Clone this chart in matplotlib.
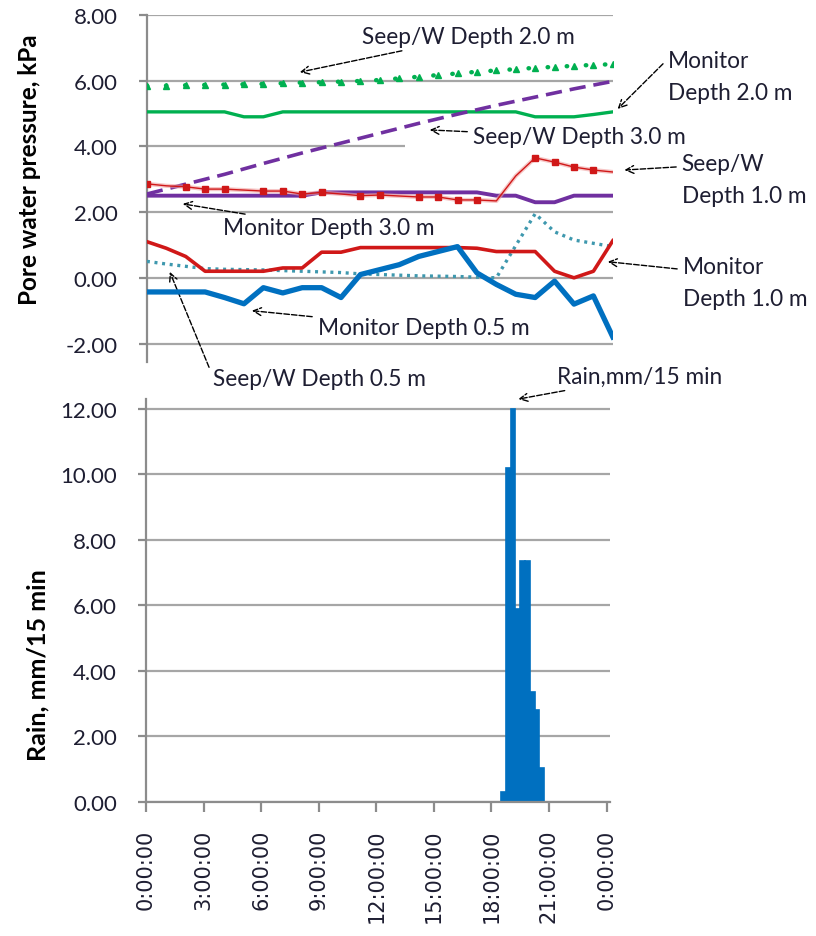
import numpy as np
import matplotlib.pyplot as plt
from matplotlib.patches import Rectangle

plt.rcParams['font.family'] = ['Lato', 'DejaVu Sans']

# pore water pressure, hourly readings (kPa)
hours = list(range(25))
monitor_05 = [-0.43, -0.43, -0.43, -0.43, -0.6, -0.79, -0.3, -0.46, -0.3, -0.3, -0.6, 0.1, 0.25,
              0.4, 0.65, 0.8, 0.95, 0.15, -0.2, -0.5, -0.6, -0.1, -0.8, -0.55, -1.8]
monitor_10 = [1.1, 0.9, 0.65, 0.2, 0.2, 0.2, 0.2, 0.3, 0.3, 0.78, 0.78, 0.92, 0.92,
              0.92, 0.92, 0.92, 0.92, 0.9, 0.8, 0.8, 0.8, 0.2, 0.0, 0.2, 1.13]
monitor_20 = [5.05, 5.05, 5.05, 5.05, 5.05, 4.9, 4.9, 5.05, 5.05, 5.05, 5.05, 5.05, 5.05,
              5.05, 5.05, 5.05, 5.05, 5.05, 5.05, 5.05, 4.9, 4.9, 4.9, 4.97, 5.05]
monitor_30 = [2.5, 2.5, 2.5, 2.5, 2.5, 2.5, 2.5, 2.5, 2.5, 2.6, 2.6, 2.6, 2.6,
              2.6, 2.6, 2.6, 2.6, 2.6, 2.5, 2.5, 2.3, 2.3, 2.5, 2.5, 2.5]
seep_05 = [0.5, 0.42, 0.35, 0.28, 0.26, 0.25, 0.24, 0.22, 0.2, 0.18, 0.16, 0.12, 0.1,
           0.08, 0.06, 0.05, 0.04, 0.02, 0.0, 0.98, 1.95, 1.4, 1.15, 1.05, 0.95]
seep_10 = [2.86, 2.8, 2.77, 2.7, 2.7, 2.67, 2.64, 2.64, 2.55, 2.6, 2.55, 2.5, 2.52,
           2.49, 2.46, 2.46, 2.37, 2.37, 2.34, 3.1, 3.65, 3.52, 3.37, 3.28, 3.22]
seep_10_marked = [0, 2, 3, 4, 6, 7, 8, 9, 11, 12, 14, 15, 16, 17, 20, 21, 22, 23]
seep_20 = [5.84, 5.85, 5.86, 5.87, 5.88, 5.89, 5.9, 5.92, 5.94, 5.95, 5.97, 5.99, 6.02,
           6.07, 6.12, 6.17, 6.22, 6.27, 6.31, 6.35, 6.39, 6.42, 6.45, 6.48, 6.5]
seep_30_hours = [0, 2, 4, 6, 8, 10, 12, 14, 16, 18, 20, 22, 24]
seep_30 = [2.55, 2.85, 3.15, 3.48, 3.8, 4.1, 4.4, 4.7, 4.98, 5.25, 5.5, 5.75, 5.98]

# rainfall, mm per 15 min
rain_hours = [18.5, 18.75, 19.0, 19.25, 19.5, 19.75, 20.0, 20.25, 20.5]
rain = [0.3, 10.2, 12.0, 5.9, 7.35, 7.35, 3.35, 2.8, 1.05]

time_ticks = [0, 3, 6, 9, 12, 15, 18, 21, 24]
time_labels = ['0:00:00', '3:00:00', '6:00:00', '9:00:00', '12:00:00', '15:00:00',
               '18:00:00', '21:00:00', '0:00:00']

GRID = '#A6A6A6'
SPINE = '#8C8C8C'
TXT = '#1E1E32'
GREEN = '#00B050'
RED = '#D01818'
PURPLE = '#7030A0'
BLUE = '#0070C0'
TEAL = '#3E98AE'

fig = plt.figure(figsize=(8.16, 9.37), dpi=100)
ax1 = fig.add_axes([0.180, 0.613, 0.571, 0.370])
ax2 = fig.add_axes([0.179, 0.143, 0.569, 0.430])

# ---- pore water pressure ----
ax1.set_xlim(0, 24)
ax1.set_ylim(-2.55, 8.0)
ax1.set_yticks(np.arange(-2, 8.1, 2))
ax1.set_yticklabels([f'{v:.2f}' for v in np.arange(-2, 8.1, 2)])
ax1.set_xticks([])
ax1.grid(axis='y', color=GRID, lw=1.6)
ax1.set_axisbelow(True)
for s in ['top', 'right', 'bottom']:
    ax1.spines[s].set_visible(False)
ax1.spines['left'].set_color(SPINE)
ax1.spines['left'].set_linewidth(1.6)

# white label box sitting over the right part of the 4.00 gridline
ax1.add_patch(Rectangle((13.3, 3.8), 11.0, 0.4, fc='white', ec='none', zorder=1,
                        clip_on=False))

ax1.plot(hours, seep_20, color=GREEN, lw=3.2, ls=(0, (0.1, 4.2)), dash_capstyle='round',
         marker='^', ms=5, mec=GREEN, mfc=GREEN, zorder=3)
ax1.plot(hours, monitor_20, color=GREEN, lw=2.4, zorder=3)
ax1.plot(seep_30_hours, seep_30, color=PURPLE, lw=2.6, dashes=(4.5, 2.2), zorder=3)
ax1.plot(hours, monitor_30, color=PURPLE, lw=2.8, zorder=3)
ax1.plot(hours, seep_10, color='#F0A0A0', lw=3.0, alpha=0.6, zorder=3)
ax1.plot(hours, seep_10, color=RED, lw=1.0, marker='s', ms=4.2, mfc=RED, mec=RED,
         markevery=seep_10_marked, zorder=4)
ax1.plot(hours, monitor_10, color=RED, lw=2.6, zorder=4)
ax1.plot(hours, seep_05, color=TEAL, lw=2.4, ls=(0, (0.9, 1.4)), zorder=3)
ax1.plot(hours, monitor_05, color=BLUE, lw=3.8, zorder=4)

fig.text(0.036, 0.819, 'Pore water pressure, kPa', rotation=90, ha='center', va='center',
         fontsize=17.5, fontweight='bold', color='black')

ann = dict(fontsize=16.3, color=TXT, ha='left', va='center', annotation_clip=False)
arrow = dict(arrowstyle='->', color='black', lw=1.0, ls=(0, (4, 1.5)),
             shrinkA=2, shrinkB=0, mutation_scale=14)

ax1.annotate('Seep/W Depth 2.0 m', xy=(7.88, 6.26), xytext=(11.07, 7.33),
             arrowprops=arrow, **ann)
ax1.annotate('Monitor\nDepth 2.0 m', xy=(24.25, 5.14), xytext=(26.83, 6.14),
             arrowprops=dict(arrow, relpos=(0, 0.82)), linespacing=1.65, **ann)
ax1.annotate('Seep/W Depth 3.0 m', xy=(14.57, 4.5), xytext=(16.79, 4.29),
             arrowprops=arrow, **ann)
ax1.annotate('Seep/W\nDepth 1.0 m', xy=(24.6, 3.28), xytext=(27.55, 2.98),
             arrowprops=dict(arrow, relpos=(0, 0.75)), linespacing=1.65, **ann)
ax1.annotate('Monitor Depth 3.0 m', xy=(1.85, 2.25), xytext=(3.91, 1.52),
             arrowprops=arrow, **ann)
ax1.annotate('Monitor\nDepth 1.0 m', xy=(23.74, 0.49), xytext=(27.6, -0.15),
             arrowprops=dict(arrow, relpos=(0, 0.75)), linespacing=1.65, **ann)
ax1.annotate('Monitor Depth 0.5 m', xy=(5.41, -1.0), xytext=(8.8, -1.52),
             arrowprops=arrow, **ann)
ax1.annotate('Seep/W Depth 0.5 m', xy=(1.18, 0.18), xytext=(3.4, -3.07),
             arrowprops=dict(arrow, relpos=(0, 0.6)), **ann)

# ---- rainfall ----
ax2.bar(rain_hours, rain, width=0.25, align='edge', color=BLUE, edgecolor=BLUE, lw=1.2)
ax2.set_xlim(0, 24.2)
ax2.set_ylim(0, 12.3)
ax2.set_yticks(np.arange(0, 12.1, 2))
ax2.set_yticklabels([f'{v:.2f}' for v in np.arange(0, 12.1, 2)])
ax2.set_xticks(time_ticks)
ax2.set_xticklabels(time_labels, rotation=90, fontsize=15, family='DejaVu Sans', color=TXT)
ax2.grid(axis='y', color=GRID, lw=1.6)
ax2.set_axisbelow(True)
for s in ['top', 'right']:
    ax2.spines[s].set_visible(False)
for s in ['left', 'bottom']:
    ax2.spines[s].set_color(SPINE)
    ax2.spines[s].set_linewidth(1.6)
ax2.tick_params(axis='x', length=7, width=1.6, color=SPINE, pad=12)

fig.text(0.046, 0.290, 'Rain, mm/15 min', rotation=90, ha='center', va='center',
         fontsize=18, fontweight='bold', color='black')

ax2.annotate('Rain,mm/15 min', xy=(19.4, 12.3), xytext=(21.44, 12.98),
             arrowprops=arrow, **ann)

for ax in (ax1, ax2):
    ax.tick_params(axis='y', length=6, width=1.6, color=SPINE, pad=15,
                   labelsize=16, labelcolor=TXT)

fig.savefig('out.png', dpi=100)
